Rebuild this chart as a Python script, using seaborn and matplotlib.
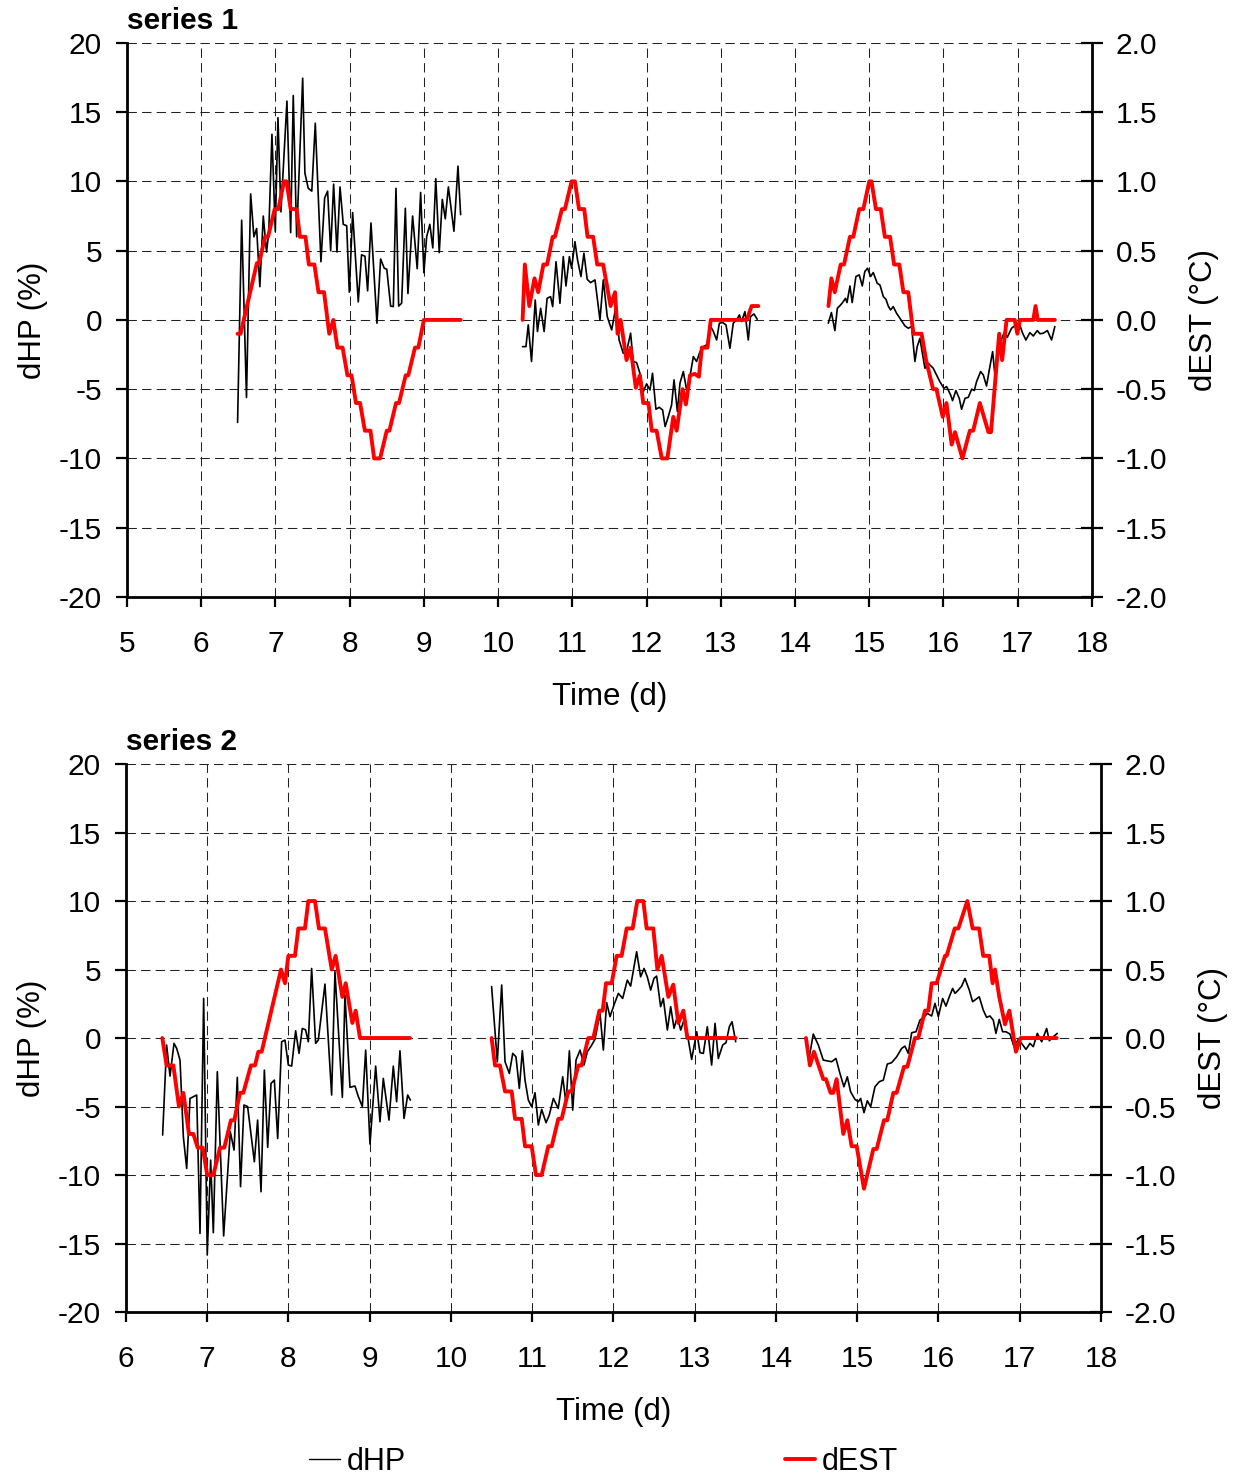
import matplotlib
matplotlib.use('Agg')
import matplotlib.pyplot as plt
from matplotlib.lines import Line2D
import seaborn as sns
import pandas as pd

# ---- data: (time in d, value) pairs per run segment ----
# series 1, dHP (%)
S1_HP = [
    [(6.49, -7.4), (6.545, 7.2), (6.61, -5.6), (6.666, 9.1), (6.71, 6.0), (6.747, 6.6), (6.79, 2.4),
     (6.836, 7.5), (6.88, 4.9), (6.91, 6.3), (6.953, 13.4), (6.998, 6.4), (7.034, 14.6), (7.074, 7.8),
     (7.155, 15.8), (7.205, 6.3), (7.24, 16.2), (7.286, 6.0), (7.367, 17.45), (7.397, 10.6),
     (7.442, 9.5), (7.49, 9.3), (7.537, 14.2), (7.613, 4.2), (7.663, 8.8), (7.703, 9.3), (7.744, 5.0),
     (7.784, 9.8), (7.829, 4.9), (7.87, 9.6), (7.914, 6.9), (7.96, 6.8), (7.995, 2.0), (8.04, 7.75),
     (8.116, 1.3), (8.16, 4.7), (8.206, 4.6), (8.242, 2.1), (8.287, 7.0), (8.368, -0.24), (8.417, 4.4),
     (8.466, 3.73), (8.5, 3.66), (8.552, 1.0), (8.588, 0.96), (8.624, 9.5), (8.66, 1.0), (8.7, 1.2),
     (8.75, 8.06), (8.785, 1.9), (8.848, 7.5), (8.91, 3.7), (8.956, 9.2), (9.0, 3.4), (9.037, 6.0),
     (9.08, 6.9), (9.12, 5.2), (9.16, 10.2), (9.207, 4.86), (9.248, 8.7), (9.288, 7.3), (9.33, 9.6),
     (9.405, 6.4), (9.459, 11.1), (9.495, 7.6)],
    [(10.33, -1.93), (10.375, -1.93), (10.406, -0.36), (10.45, -3.0), (10.5, 1.44), (10.53, -0.84),
     (10.573, 0.84), (10.62, -0.84), (10.66, 1.56), (10.707, 1.68), (10.735, 0.96), (10.78, 4.2),
     (10.833, 1.2), (10.878, 4.57), (10.914, 2.45), (10.96, 4.57), (10.99, 3.73), (11.035, 5.65),
     (11.07, 4.33), (11.116, 3.13), (11.156, 4.81), (11.2, 2.93), (11.246, 2.69), (11.305, 2.89),
     (11.372, 0.0), (11.417, 2.89), (11.47, 0.24), (11.53, -0.72), (11.587, 0.96), (11.63, -1.45),
     (11.686, -2.41), (11.73, -2.29), (11.785, -0.96), (11.82, -3.0), (11.866, -3.08), (11.91, -3.85),
     (11.956, -5.18), (12.0, -4.62), (12.046, -5.06), (12.08, -3.85), (12.126, -6.45), (12.17, -6.31),
     (12.216, -6.5), (12.25, -7.7), (12.293, -6.98), (12.337, -6.14), (12.37, -4.33), (12.415, -6.62),
     (12.45, -4.57), (12.495, -3.73), (12.54, -5.06), (12.584, -4.09), (12.63, -2.65), (12.674, -3.0),
     (12.72, -2.29), (12.764, -1.93), (12.81, -1.8), (12.863, -0.48), (12.9, -0.84), (12.944, -1.45),
     (12.98, -0.24), (13.025, -0.19), (13.07, -0.36), (13.123, -2.05), (13.168, -0.24), (13.213, 0.0),
     (13.25, 0.36), (13.28, -0.12), (13.325, 0.6), (13.37, -1.45), (13.4, 0.24), (13.447, 0.43),
     (13.49, 0.05)],
    [(14.448, -0.24), (14.49, 0.53), (14.537, -0.77), (14.57, 0.84), (14.614, 1.08), (14.65, 1.32),
     (14.68, 1.56), (14.7, 1.25), (14.74, 2.45), (14.77, 1.25), (14.82, 3.13), (14.865, 3.25),
     (14.906, 2.45), (14.94, 3.49), (14.977, 3.73), (15.018, 3.13), (15.054, 3.42), (15.108, 2.64),
     (15.144, 2.52), (15.19, 1.68), (15.225, 1.49), (15.256, 1.0), (15.288, 0.72), (15.323, 0.96),
     (15.368, 0.48), (15.422, 0.05), (15.48, -0.43), (15.525, -0.6), (15.57, -0.48), (15.615, -3.0),
     (15.646, -1.93), (15.682, -1.33), (15.75, -3.49), (15.795, -3.13), (15.862, -3.49), (15.95, -4.45),
     (16.006, -4.94), (16.042, -4.81), (16.096, -5.42), (16.122, -5.83), (16.167, -5.1), (16.212, -5.66),
     (16.244, -6.45), (16.29, -5.66), (16.334, -5.59), (16.38, -5.0), (16.415, -5.1), (16.446, -4.45),
     (16.5, -3.73), (16.536, -3.97), (16.58, -4.77), (16.617, -3.61), (16.662, -2.29), (16.693, -3.97),
     (16.76, -1.69), (16.815, -0.96), (16.86, -1.25), (16.917, -0.6), (16.976, -0.36), (17.02, -0.24),
     (17.066, -0.96), (17.11, -1.45), (17.164, -0.92), (17.21, -1.16), (17.263, -0.77), (17.3, -1.0),
     (17.344, -0.96), (17.4, -0.77), (17.456, -1.45), (17.5, -0.48)],
]

# series 1, dEST (deg C)
S1_EST = [
    [(6.49, -0.10), (6.53, -0.10), (6.75, 0.41), (6.78, 0.41), (6.86, 0.60), (6.90, 0.60), (6.99, 0.80),
     (7.04, 0.80), (7.115, 1.00), (7.15, 1.00), (7.205, 0.80), (7.285, 0.80), (7.33, 0.60), (7.405, 0.60),
     (7.45, 0.40), (7.525, 0.40), (7.58, 0.20), (7.655, 0.20), (7.725, -0.10), (7.78, 0.00),
     (7.835, -0.20), (7.905, -0.20), (7.97, -0.40), (8.025, -0.40), (8.085, -0.60), (8.14, -0.60),
     (8.205, -0.80), (8.28, -0.80), (8.33, -1.00), (8.41, -1.00), (8.50, -0.80), (8.535, -0.80),
     (8.625, -0.60), (8.665, -0.60), (8.755, -0.40), (8.79, -0.40), (8.88, -0.20), (8.925, -0.20),
     (9.00, 0.00), (9.495, 0.00)],
    [(10.33, 0.00), (10.36, 0.40), (10.42, 0.10), (10.49, 0.30), (10.54, 0.20), (10.61, 0.40),
     (10.66, 0.40), (10.735, 0.60), (10.765, 0.60), (10.86, 0.80), (10.90, 0.80), (10.99, 1.00),
     (11.035, 1.00), (11.09, 0.80), (11.16, 0.80), (11.205, 0.60), (11.28, 0.60), (11.335, 0.40),
     (11.415, 0.40), (11.485, 0.19), (11.515, 0.10), (11.575, 0.20), (11.61, -0.10), (11.65, 0.00),
     (11.73, -0.29), (11.785, -0.20), (11.855, -0.49), (11.91, -0.40), (11.955, -0.60), (12.025, -0.60),
     (12.07, -0.80), (12.135, -0.80), (12.205, -1.00), (12.28, -1.00), (12.36, -0.70), (12.405, -0.80),
     (12.485, -0.50), (12.53, -0.61), (12.585, -0.40), (12.65, -0.39), (12.705, -0.41), (12.745, -0.20),
     (12.82, -0.20), (12.865, 0.00), (13.35, 0.00), (13.415, 0.10), (13.505, 0.10)],
    [(14.45, 0.10), (14.49, 0.30), (14.535, 0.20), (14.615, 0.40), (14.66, 0.40), (14.74, 0.60),
     (14.785, 0.60), (14.865, 0.80), (14.92, 0.80), (15.00, 1.00), (15.03, 1.00), (15.09, 0.80),
     (15.155, 0.80), (15.21, 0.60), (15.28, 0.60), (15.335, 0.40), (15.405, 0.40), (15.46, 0.20),
     (15.525, 0.20), (15.595, -0.10), (15.705, -0.10), (15.765, -0.29), (15.86, -0.50), (15.905, -0.50),
     (15.99, -0.70), (16.04, -0.60), (16.11, -0.90), (16.155, -0.81), (16.255, -1.00), (16.355, -0.80),
     (16.40, -0.80), (16.49, -0.60), (16.605, -0.81), (16.64, -0.81), (16.75, -0.10), (16.79, -0.29),
     (16.85, 0.00), (16.96, 0.00), (16.995, -0.10), (17.03, 0.00), (17.21, 0.00), (17.24, 0.10),
     (17.27, 0.00), (17.50, 0.00)],
]

# series 2, dHP (%)
S2_HP = [
    [(6.451, -7.08), (6.5, -0.51), (6.542, -2.78), (6.591, -0.39), (6.624, -0.76), (6.665, -1.61),
     (6.706, -7.2), (6.747, -9.52), (6.788, -4.41), (6.87, -4.16), (6.911, -14.26), (6.956, 2.89),
     (7.0, -15.84), (7.042, -8.91), (7.075, -14.21), (7.124, -2.46), (7.202, -14.45), (7.284, -6.84),
     (7.33, -8.18), (7.37, -2.87), (7.41, -10.85), (7.452, -4.89), (7.497, -5.0), (7.58, -9.03),
     (7.62, -5.99), (7.662, -11.22), (7.703, -2.34), (7.744, -7.98), (7.785, -3.31), (7.826, -3.07),
     (7.867, -7.33), (7.916, -0.27), (7.957, -0.15), (7.998, -1.97), (8.039, -2.05), (8.088, 0.53),
     (8.13, -1.12), (8.17, 0.7), (8.21, 0.6), (8.244, -0.27), (8.285, 5.08), (8.334, -0.39),
     (8.367, -0.15), (8.449, 3.94), (8.531, -4.16), (8.572, 4.84), (8.663, -4.33), (8.695, 3.14),
     (8.757, -3.6), (8.818, -3.5), (8.86, -4.28), (8.909, -5.0), (8.95, -0.88), (9.003, -7.74),
     (9.073, -2.05), (9.126, -6.11), (9.167, -2.95), (9.237, -5.99), (9.29, -2.05), (9.331, -4.65),
     (9.372, -0.93), (9.422, -5.87), (9.467, -4.16), (9.5, -4.53)],
    [(10.5, 3.75), (10.57, -1.73), (10.624, 3.87), (10.665, -1.73), (10.718, -2.58), (10.76, -1.12),
     (10.8, -1.37), (10.841, -3.68), (10.878, -0.93), (10.911, -3.07), (10.952, -4.53), (10.993, -5.02),
     (11.034, -3.99), (11.075, -6.35), (11.116, -5.21), (11.17, -6.18), (11.21, -5.62), (11.26, -4.41),
     (11.32, -5.14), (11.375, -2.83), (11.416, -4.77), (11.457, -0.93), (11.498, -5.26), (11.539, -1.61),
     (11.588, -0.88), (11.637, -1.97), (11.678, -1.0), (11.72, -0.63), (11.772, -0.1), (11.834, 1.8),
     (11.875, -0.88), (11.916, 2.58), (11.957, 1.56), (12.006, 2.41), (12.06, 3.26), (12.113, 2.89),
     (12.17, 4.23), (12.211, 3.79), (12.285, 6.3), (12.334, 4.47), (12.376, 5.08), (12.416, 4.47),
     (12.458, 3.5), (12.498, 4.35), (12.531, 4.52), (12.58, 2.29), (12.613, 2.89), (12.663, 0.58),
     (12.704, 2.29), (12.745, 0.71), (12.786, 1.56), (12.827, 0.58), (12.868, 1.31), (12.909, 0.29),
     (12.962, -1.56), (13.024, 0.46), (13.065, -1.07), (13.106, -1.12), (13.155, 0.83), (13.208, -1.97),
     (13.25, 1.07), (13.29, -1.49), (13.344, -0.51), (13.385, -0.34), (13.426, 0.83), (13.459, 1.19),
     (13.504, -0.27)],
    [(14.369, 0.0), (14.41, -1.37), (14.459, 0.29), (14.521, -0.51), (14.582, -1.61), (14.685, -1.73),
     (14.738, -1.49), (14.787, -2.58), (14.836, -3.56), (14.878, -2.83), (14.918, -3.92), (14.972, -4.48),
     (15.013, -4.65), (15.042, -4.41), (15.083, -5.45), (15.124, -4.58), (15.165, -5.02), (15.218, -3.56),
     (15.271, -3.19), (15.321, -3.07), (15.37, -1.9), (15.423, -1.8), (15.485, -1.37), (15.546, -0.76),
     (15.587, -0.59), (15.628, -1.12), (15.67, 0.39), (15.723, 0.46), (15.772, 1.31), (15.821, 1.51),
     (15.862, 1.8), (15.916, 1.61), (15.957, 2.53), (15.998, 1.56), (16.051, 2.89), (16.092, 2.33),
     (16.133, 3.01), (16.174, 3.62), (16.203, 3.26), (16.244, 3.5), (16.285, 3.79), (16.326, 4.35),
     (16.379, 3.5), (16.42, 2.65), (16.502, 3.01), (16.551, 2.04), (16.592, 1.51), (16.633, 1.61),
     (16.674, 1.31), (16.707, 0.34), (16.748, 1.36), (16.789, 0.46), (16.83, 0.46), (16.88, 0.29),
     (16.929, -0.63), (16.982, -0.1), (17.023, -0.39), (17.077, -0.83), (17.126, -0.39), (17.167, -0.63),
     (17.216, 0.34), (17.27, -0.27), (17.331, 0.7), (17.364, -0.2), (17.413, 0.1), (17.462, 0.34)],
]

# series 2, dEST (deg C)
S2_EST = [
    [(6.447, 0.00), (6.50, -0.20), (6.583, -0.20), (6.652, -0.50), (6.706, -0.40), (6.775, -0.70),
     (6.829, -0.70), (6.882, -0.80), (6.944, -0.80), (7.00, -1.00), (7.075, -1.00), (7.157, -0.80),
     (7.21, -0.80), (7.292, -0.60), (7.333, -0.60), (7.403, -0.40), (7.444, -0.40), (7.538, -0.20),
     (7.588, -0.20), (7.629, -0.10), (7.67, -0.10), (7.908, 0.50), (7.957, 0.40), (7.998, 0.60),
     (8.08, 0.60), (8.121, 0.80), (8.203, 0.80), (8.244, 1.00), (8.326, 1.00), (8.375, 0.80),
     (8.449, 0.80), (8.532, 0.50), (8.58, 0.60), (8.663, 0.30), (8.704, 0.40), (8.786, 0.11),
     (8.827, 0.20), (8.88, 0.00), (9.495, 0.00)],
    [(10.50, 0.00), (10.542, -0.20), (10.603, -0.20), (10.665, -0.39), (10.747, -0.39), (10.788, -0.59),
     (10.87, -0.59), (10.911, -0.79), (10.993, -0.79), (11.046, -1.00), (11.116, -1.00), (11.198, -0.79),
     (11.24, -0.79), (11.321, -0.59), (11.362, -0.59), (11.444, -0.39), (11.485, -0.39), (11.567, -0.20),
     (11.608, -0.20), (11.69, 0.00), (11.752, 0.00), (11.826, 0.20), (11.867, 0.20), (11.908, 0.40),
     (11.978, 0.40), (12.039, 0.60), (12.10, 0.60), (12.162, 0.80), (12.236, 0.80), (12.293, 1.00),
     (12.367, 1.00), (12.408, 0.80), (12.49, 0.80), (12.54, 0.50), (12.593, 0.60), (12.675, 0.30),
     (12.736, 0.39), (12.798, 0.11), (12.86, 0.20), (12.909, 0.00), (13.504, 0.00)],
    [(14.369, 0.00), (14.418, -0.20), (14.467, -0.10), (14.582, -0.30), (14.615, -0.30), (14.672, -0.40),
     (14.705, -0.40), (14.746, -0.30), (14.828, -0.70), (14.878, -0.60), (14.931, -0.79), (14.993, -0.79),
     (15.083, -1.10), (15.198, -0.81), (15.239, -0.81), (15.329, -0.60), (15.37, -0.60), (15.444, -0.40),
     (15.485, -0.40), (15.575, -0.21), (15.616, -0.21), (15.71, 0.00), (15.751, 0.00), (15.834, 0.20),
     (15.875, 0.20), (15.916, 0.40), (15.977, 0.40), (16.08, 0.60), (16.10, 0.60), (16.20, 0.80),
     (16.244, 0.80), (16.355, 1.00), (16.42, 0.80), (16.50, 0.80), (16.55, 0.60), (16.625, 0.60),
     (16.666, 0.40), (16.695, 0.50), (16.748, 0.30), (16.818, 0.10), (16.872, 0.20), (16.953, -0.10),
     (17.01, 0.00), (17.454, 0.00)],
]

PANEL_TITLES = ['series 1', 'series 2']
X_LIMS = [(5, 18), (6, 18)]
HP_TICKS = [-20, -15, -10, -5, 0, 5, 10, 15, 20]
EST_TICKS = [-2.0, -1.5, -1.0, -0.5, 0.0, 0.5, 1.0, 1.5, 2.0]


def to_frame(segments):
    rows = []
    for k, seg in enumerate(segments):
        for t, v in seg:
            rows.append({'t': t, 'v': v, 'seg': k})
    return pd.DataFrame(rows)


sns.set_theme(style='white')
plt.rcParams['font.family'] = ['Liberation Sans', 'DejaVu Sans']
plt.rcParams['axes.unicode_minus'] = False
plt.rcParams['text.color'] = 'black'
plt.rcParams['axes.labelcolor'] = 'black'

fig = plt.figure(figsize=(12.4, 14.79), dpi=100)
positions = [[0.1024, 0.5964, 0.7782, 0.3746], [0.1016, 0.1129, 0.7863, 0.3705]]
grid_kw = dict(color='#222222', linestyle=(0, (9, 5)), linewidth=0.75)

for i, (hp, est) in enumerate([(S1_HP, S1_EST), (S2_HP, S2_EST)]):
    ax = fig.add_axes(positions[i])
    ax2 = ax.twinx()

    sns.lineplot(data=to_frame(hp), x='t', y='v', units='seg', estimator=None, sort=False,
                 color='black', linewidth=1.2, ax=ax, legend=False)
    sns.lineplot(data=to_frame(est), x='t', y='v', units='seg', estimator=None, sort=False,
                 color='#ff0000', linewidth=2.8, ax=ax2, legend=False)

    x0, x1 = X_LIMS[i]
    ax.set_xlim(x0, x1)
    ax.set_ylim(-20, 20)
    ax2.set_ylim(-2, 2)
    ax.set_xticks(range(x0, x1 + 1))
    ax.set_yticks(HP_TICKS)
    ax2.set_yticks(EST_TICKS)
    ax2.set_yticklabels([f'{v:.1f}' for v in EST_TICKS])

    ax.grid(True, **grid_kw)
    ax2.grid(False)

    for side in ['top', 'right']:
        ax.spines[side].set_visible(False)
    for side in ['top', 'left', 'bottom']:
        ax2.spines[side].set_visible(False)
    for sp in [ax.spines['left'], ax.spines['bottom'], ax2.spines['right']]:
        sp.set_linewidth(2.0)
        sp.set_color('black')

    ax.tick_params(axis='y', direction='out', length=8, width=1.6, pad=10,
                   labelsize=21.5, colors='black', left=True)
    ax.tick_params(axis='x', direction='out', length=7, width=1.6, pad=17,
                   labelsize=21.5, colors='black', bottom=True)
    ax2.tick_params(axis='y', direction='inout', length=16, width=1.6, pad=9,
                    labelsize=21.5, colors='black', right=True)

    ax.set_xlabel('Time (d)', fontsize=22.5, labelpad=17)
    ax.set_ylabel('dHP (%)', fontsize=22.5, labelpad=8)
    ax2.set_ylabel('dEST (°C)', fontsize=22.5, labelpad=16)
    ax.set_title(PANEL_TITLES[i], loc='left', fontsize=21.5, fontweight='bold', pad=10)

    # twin axis sits on top so red traces are drawn over the black ones
    ax2.set_zorder(ax.get_zorder() + 1)
    ax2.patch.set_visible(False)

handles = [Line2D([], [], color='black', linewidth=1.0),
           Line2D([], [], color='#ff0000', linewidth=2.8)]
fig.legend(handles, ['dHP', 'dEST'], loc='center', bbox_to_anchor=(0.487, 0.0115), ncol=2,
           frameon=False, fontsize=22, handlelength=1.0, handletextpad=0.22, columnspacing=12.4)

fig.savefig('out.png', dpi=100)
